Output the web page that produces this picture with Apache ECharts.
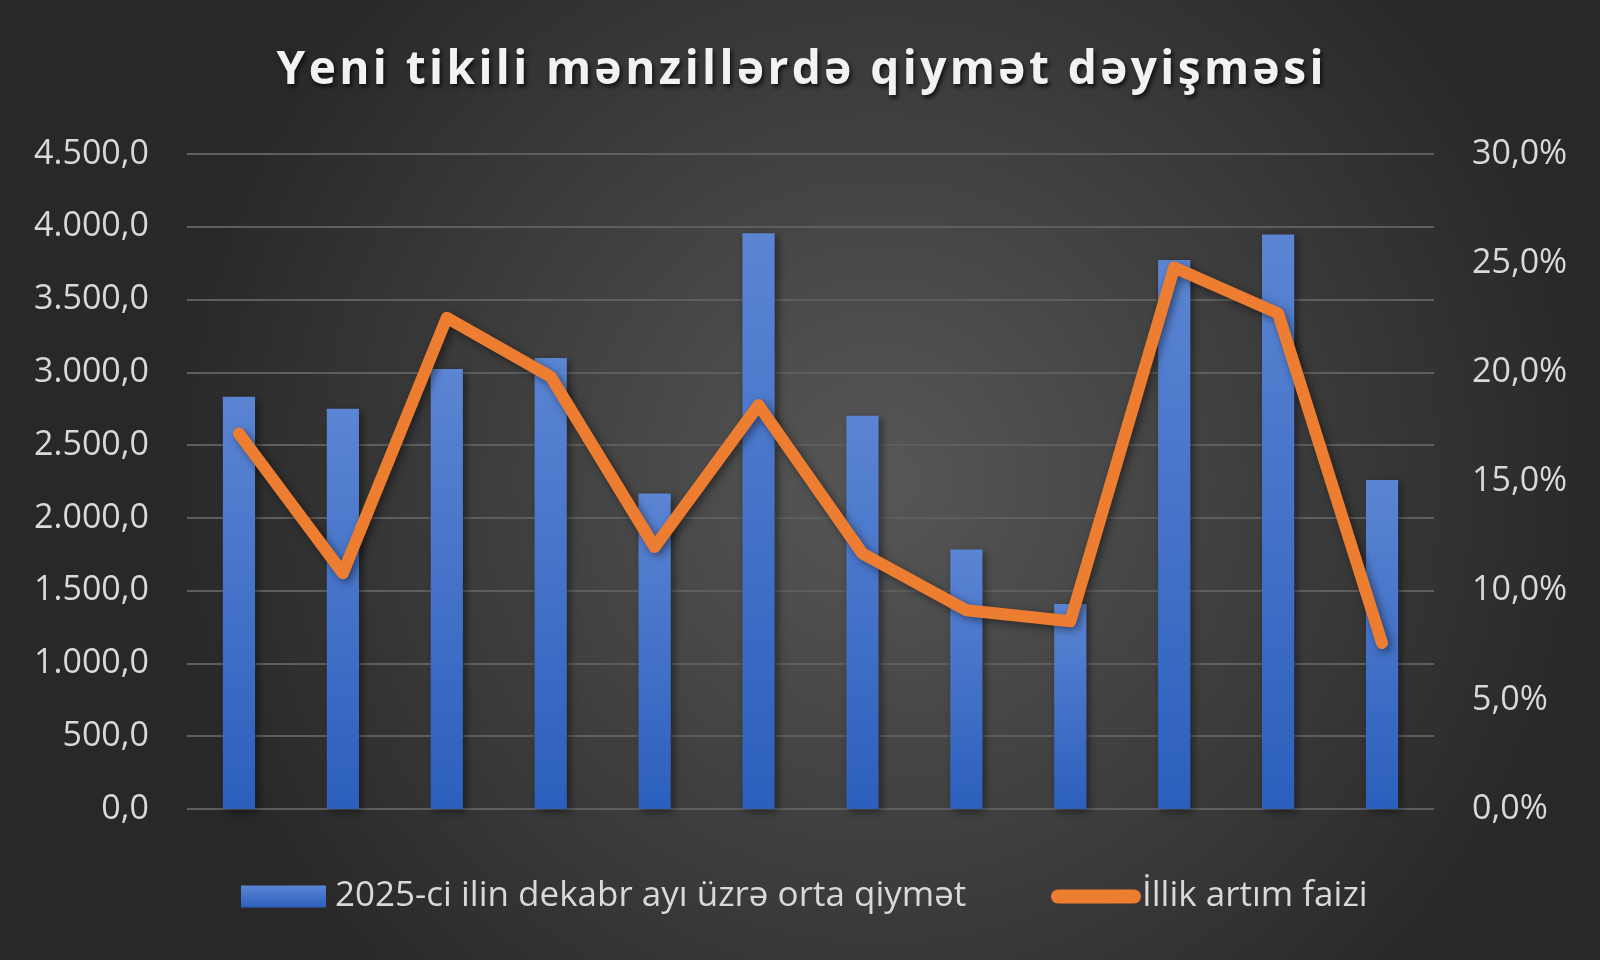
<!DOCTYPE html>
<html>
<head>
<meta charset="utf-8">
<script src="https://cdn.jsdelivr.net/npm/echarts@6/dist/echarts.min.js"></script>
<style>html,body{margin:0;padding:0;background:#333;}#c{width:1600px;height:960px;}</style>
</head>
<body>
<div id="c"></div>
<script>
const titleText = 'Yeni tikili mənzillərdə qiymət dəyişməsi';
const categories = ['1','2','3','4','5','6','7','8','9','10','11','12'];
const barName = '2025-ci ilin dekabr ayı üzrə orta qiymət';
const lineName = 'İllik artım faizi';
const priceValues = [2832, 2749, 3023, 3098, 2168, 3956, 2701, 1783, 1408, 3771, 3947, 2260];
const growthValues = [17.2, 10.8, 22.5, 19.8, 12.0, 18.5, 11.7, 9.1, 8.6, 24.8, 22.7, 7.6];

function fmtLeft(v){
  const parts = v.toFixed(1).split('.');
  const intPart = parts[0].replace(/\B(?=(\d{3})+(?!\d))/g, '.');
  return intPart + ',' + parts[1];
}
function fmtRight(v){ return v.toFixed(1).replace('.', ',') + '%'; }

const font = '"Open Sans", "Noto Sans", sans-serif';
const textColor = '#d9d9d9';

// Title with letter spacing: one text element per character
const titleFontSize = 46;
const letterSpacing = 3.4;
const titleFont = 'bold ' + titleFontSize + 'px ' + font;
const mc = document.createElement('canvas').getContext('2d');
mc.font = titleFont;
const chars = Array.from(titleText);
const widths = chars.map(ch => mc.measureText(ch).width);
const totalW = widths.reduce((a,b)=>a+b,0) + letterSpacing*(chars.length-1);
let cx = 800 - totalW/2;
const titleEls = chars.map((ch,i) => {
  const el = {
    type:'text', x:cx, y:71,
    style:{
      text:ch, font:titleFont, fill:'#f2f2f2',
      textAlign:'left', textVerticalAlign:'middle',
      textShadowColor:'rgba(0,0,0,0.7)', textShadowBlur:4, textShadowOffsetX:2, textShadowOffsetY:3
    }
  };
  cx += widths[i] + letterSpacing;
  return el;
});

const chart = echarts.init(document.getElementById('c'), null, {renderer:'canvas'});
chart.setOption({
  backgroundColor: {
    type:'radial', x:0.55, y:0.5, r:0.75,
    colorStops:[{offset:0,color:'#575757'},{offset:1,color:'#282828'}]
  },
  graphic: titleEls,
  grid:{left:187, right:166, top:154, bottom:151, containLabel:false},
  legend:[
    {
      data:[{name:barName, icon:'rect'}],
      left:236, top:874, itemWidth:85, itemHeight:22,
      textStyle:{color:textColor, fontSize:35, fontFamily:font, padding:[0,0,0,4]}
    },
    {
      data:[{name:lineName, icon:'path://M7,0 H83 A7,7 0 0 1 83,14 H7 A7,7 0 0 1 7,0 Z'}],
      left:1046, top:874, itemWidth:90, itemHeight:22,
      itemStyle:{color:'#ed7d31'},
      textStyle:{color:textColor, fontSize:35, fontFamily:font, padding:[0,0,0,-4]}
    }
  ],
  xAxis:{
    type:'category', data:categories,
    axisLine:{show:false}, axisTick:{show:false}, axisLabel:{show:false}
  },
  yAxis:[
    {
      type:'value', min:0, max:4500, interval:500,
      axisLabel:{formatter:fmtLeft, color:textColor, fontSize:34, fontFamily:font, margin:38},
      splitLine:{lineStyle:{color:'#5e5e5e', width:2}},
      axisLine:{show:false}, axisTick:{show:false}
    },
    {
      type:'value', min:0, max:30, interval:5,
      axisLabel:{formatter:fmtRight, color:textColor, fontSize:34, fontFamily:font, margin:38},
      splitLine:{show:false}, axisLine:{show:false}, axisTick:{show:false}
    }
  ],
  series:[
    {
      name:barName, type:'bar', data:priceValues, barWidth:'31%', yAxisIndex:0,
      itemStyle:{
        color:{type:'linear',x:0,y:0,x2:0,y2:1,colorStops:[{offset:0,color:'#5b85d3'},{offset:1,color:'#2c5fbd'}]},
        shadowColor:'rgba(0,0,0,0.45)', shadowBlur:8, shadowOffsetX:3, shadowOffsetY:3
      }
    },
    {
      name:lineName, type:'line', data:growthValues, yAxisIndex:1,
      symbol:'none', silent:true,
      lineStyle:{color:'#ed7d31', width:12, cap:'round', join:'round',
        shadowColor:'rgba(0,0,0,0.45)', shadowBlur:8, shadowOffsetX:3, shadowOffsetY:3},
      itemStyle:{color:'#ed7d31'}
    }
  ],
  animation:false
});
</script>
</body>
</html>
